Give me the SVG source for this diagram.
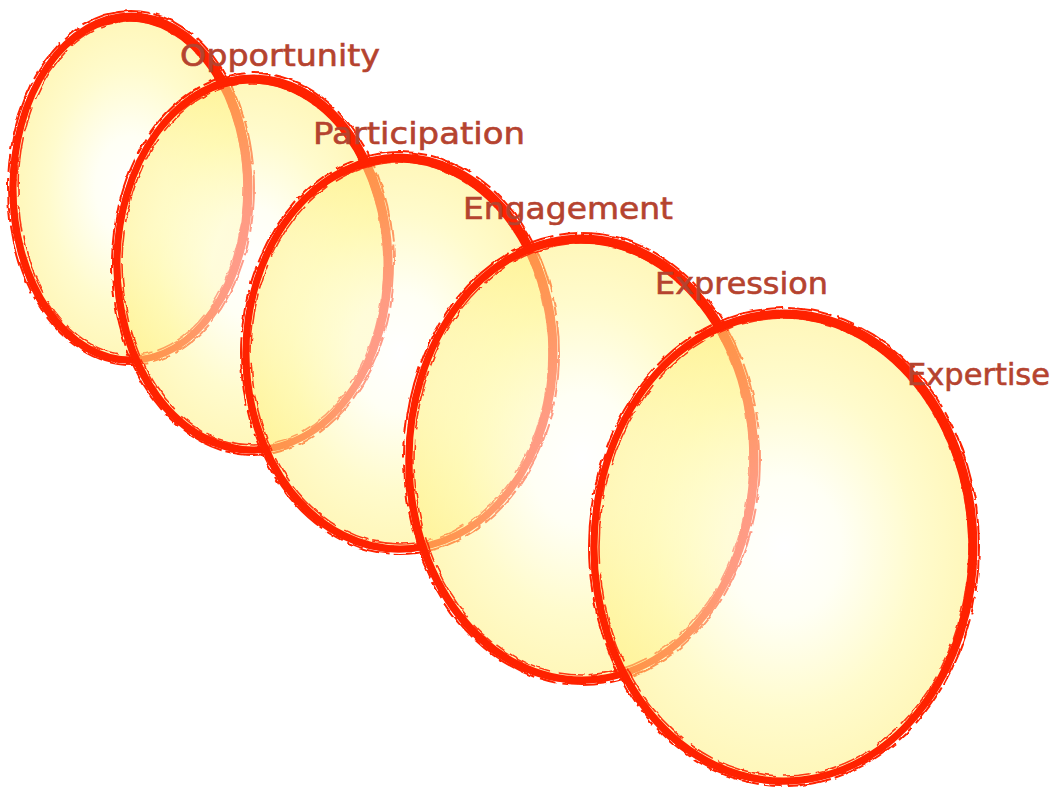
<svg xmlns="http://www.w3.org/2000/svg" width="1052" height="787" viewBox="0 0 1052 787">
<defs>
<radialGradient id="fillG" cx="0.5" cy="0.5" r="0.5">
<stop offset="0" stop-color="#FFFFFF" stop-opacity="0.55"/>
<stop offset="0.3" stop-color="#FFFFEC" stop-opacity="0.55"/>
<stop offset="0.7" stop-color="#FFF8A4" stop-opacity="0.55"/>
<stop offset="1" stop-color="#FFF080" stop-opacity="0.55"/>
</radialGradient>
<filter id="rough" x="-5%" y="-5%" width="110%" height="110%">
<feTurbulence type="fractalNoise" baseFrequency="0.09" numOctaves="2" seed="4" result="n"/>
<feDisplacementMap in="SourceGraphic" in2="n" scale="4" xChannelSelector="R" yChannelSelector="G"/>
</filter>
</defs>
<style>
.fill{fill:url(#fillG);stroke:none}
.s1{fill:none;stroke:#FF2200;stroke-width:7}
.s1b{fill:none;stroke:#FF2200;stroke-width:5}
.s2{fill:none;stroke:#FF2200;stroke-width:2;stroke-dasharray:44 6 18 5 70 4;filter:url(#rough)}
.s3{fill:none;stroke:#FF2200;stroke-width:1.6;stroke-dasharray:26 9 60 5;opacity:0.9;filter:url(#rough)}
.lbl{font-family:"DejaVu Sans","Liberation Sans",sans-serif;font-size:30px;fill:#B5432F;stroke:#B5432F;stroke-width:0.6}
</style>
<rect width="1052" height="787" fill="#FFFFFF"/>
<g id="connectors"/>
<g id="n1">
<ellipse class="fill" cx="131" cy="188" rx="118" ry="172"/>
<ellipse class="s1" cx="131" cy="188" rx="118" ry="172"/>
<ellipse class="s1b" cx="129" cy="190" rx="117" ry="171"/>
<ellipse class="s2" cx="131" cy="188" rx="123" ry="177"/>
<ellipse class="s3" cx="131" cy="188" rx="113" ry="167"/>
<text class="lbl" x="180" y="66" textLength="200" lengthAdjust="spacingAndGlyphs">Opportunity</text>
</g>
<g id="n2">
<ellipse class="fill" cx="253" cy="264" rx="136" ry="186"/>
<ellipse class="s1" cx="253" cy="264" rx="136" ry="186"/>
<ellipse class="s1b" cx="251" cy="266" rx="135" ry="185"/>
<ellipse class="s2" cx="253" cy="264" rx="141" ry="191"/>
<ellipse class="s3" cx="253" cy="264" rx="131" ry="181"/>
<text class="lbl" x="313" y="144" textLength="212" lengthAdjust="spacingAndGlyphs">Participation</text>
</g>
<g id="n3">
<ellipse class="fill" cx="400" cy="353" rx="154" ry="196"/>
<ellipse class="s1" cx="400" cy="353" rx="154" ry="196"/>
<ellipse class="s1b" cx="398" cy="355" rx="153" ry="195"/>
<ellipse class="s2" cx="400" cy="353" rx="159" ry="201"/>
<ellipse class="s3" cx="400" cy="353" rx="149" ry="191"/>
<text class="lbl" x="463" y="219" textLength="210" lengthAdjust="spacingAndGlyphs">Engagement</text>
</g>
<g id="n4">
<ellipse class="fill" cx="582" cy="459" rx="173" ry="221"/>
<ellipse class="s1" cx="582" cy="459" rx="173" ry="221"/>
<ellipse class="s1b" cx="580" cy="461" rx="172" ry="220"/>
<ellipse class="s2" cx="582" cy="459" rx="178" ry="226"/>
<ellipse class="s3" cx="582" cy="459" rx="168" ry="216"/>
<text class="lbl" x="655" y="294" textLength="173" lengthAdjust="spacingAndGlyphs">Expression</text>
</g>
<g id="n5">
<ellipse class="fill" cx="784" cy="547" rx="190" ry="234"/>
<ellipse class="s1" cx="784" cy="547" rx="190" ry="234"/>
<ellipse class="s1b" cx="782" cy="549" rx="189" ry="233"/>
<ellipse class="s2" cx="784" cy="547" rx="195" ry="239"/>
<ellipse class="s3" cx="784" cy="547" rx="185" ry="229"/>
<text class="lbl" x="907" y="385" textLength="143" lengthAdjust="spacingAndGlyphs">Expertise</text>
</g>
</svg>
